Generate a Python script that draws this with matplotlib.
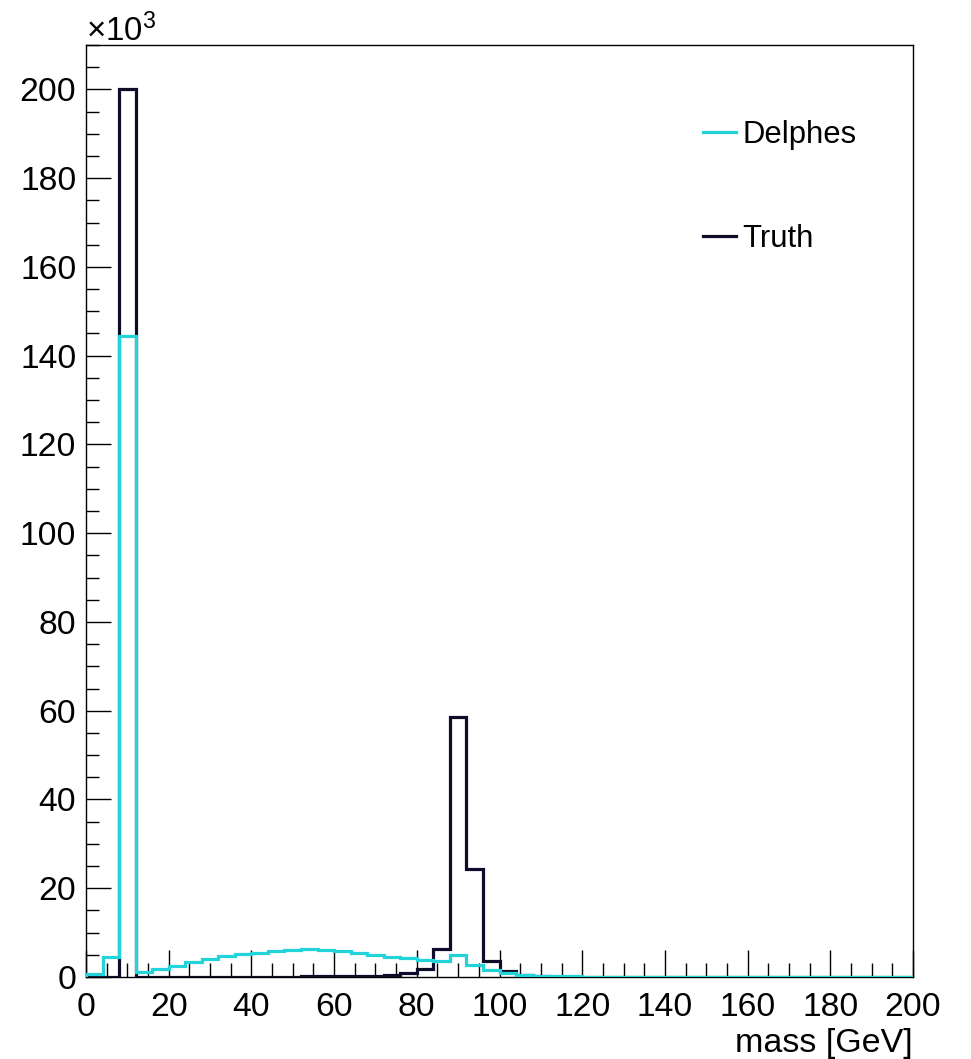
import numpy as np
import matplotlib
matplotlib.use("Agg")
import matplotlib.pyplot as plt
from matplotlib.ticker import MultipleLocator, FuncFormatter
from matplotlib.lines import Line2D

plt.rcParams['font.family'] = ['Liberation Sans', 'DejaVu Sans']
plt.rcParams['mathtext.fontset'] = 'custom'
plt.rcParams['mathtext.rm'] = 'Liberation Sans'

# Binning: 50 bins of 4 GeV from 0 to 200 GeV
bin_edges = np.arange(0, 204, 4)

# Reconstructed (Delphes) invariant mass, entries per bin
delphes_counts = [
    700, 4400, 144500, 1200, 1800, 2400, 3300, 4100, 4700, 5200,
    5500, 5900, 6100, 6200, 6100, 5900, 5400, 4900, 4500, 4200,
    3800, 3500, 5000, 2700, 1500, 900, 500, 300, 200, 120,
    100, 80, 60, 50, 40, 30, 25, 20, 18, 15,
    12, 10, 8, 7, 6, 5, 4, 3, 3, 2,
]

# Generator-level (Truth) invariant mass, entries per bin
truth_counts = [
    0, 0, 200000, 20, 30, 40, 50, 60, 70, 80,
    90, 100, 110, 130, 150, 170, 200, 300, 500, 800,
    1900, 6300, 58500, 24300, 3700, 1400, 500, 200, 100, 60,
    40, 30, 20, 15, 10, 8, 6, 5, 4, 3,
    3, 2, 2, 1, 1, 1, 1, 1, 0, 0,
]

series_labels = ["Delphes", "Truth"]
x_label = "mass [GeV]"

W, H = 971, 1059
fig = plt.figure(figsize=(W / 100, H / 100), dpi=100)
ax = fig.add_axes([86 / W, (H - 977) / H, (913 - 86) / W, (977 - 45) / H])

truth_color = "#0d0d2b"
delphes_color = "#22d3d9"

ax.stairs(truth_counts, bin_edges, color=truth_color, lw=2.3, zorder=3)
ax.stairs(delphes_counts, bin_edges, color=delphes_color, lw=2.3, zorder=4)

ax.set_xlim(0, 200)
ax.set_ylim(0, 210000)

ax.xaxis.set_major_locator(MultipleLocator(20))
ax.xaxis.set_minor_locator(MultipleLocator(5))
ax.yaxis.set_major_locator(MultipleLocator(20000))
ax.yaxis.set_minor_locator(MultipleLocator(5000))
ax.yaxis.set_major_formatter(FuncFormatter(lambda v, p: f"{v / 1000:g}"))

ax.tick_params(which='both', direction='in', top=False, right=False, width=1.0, color='black')
ax.tick_params(axis='y', which='major', length=18, pad=7, labelsize=24.2)
ax.tick_params(axis='y', which='minor', length=9.4)
ax.tick_params(axis='x', which='major', length=19.5, pad=10.5, labelsize=24.2)
ax.tick_params(axis='x', which='minor', length=10)
for s in ax.spines.values():
    s.set_linewidth(1.0)

ax.set_xlabel(x_label, fontsize=24.5, loc='right', labelpad=4)

fig.text(86 / W, (H - 41) / H, r'$\mathregular{\times10^{3}}$', fontsize=23.8,
         ha='left', va='baseline')

leg_handles = [Line2D([], [], color=delphes_color, lw=2.3),
               Line2D([], [], color=truth_color, lw=2.3)]
ax.legend(leg_handles, series_labels, loc='upper left',
          bbox_to_anchor=((703 - 86) / (913 - 86), (977 - 120) / (977 - 45)),
          frameon=False, fontsize=22.3, handlelength=1.05, handletextpad=0.22,
          labelspacing=2.4, borderpad=0, borderaxespad=0)

fig.savefig("out.png", dpi=100)
